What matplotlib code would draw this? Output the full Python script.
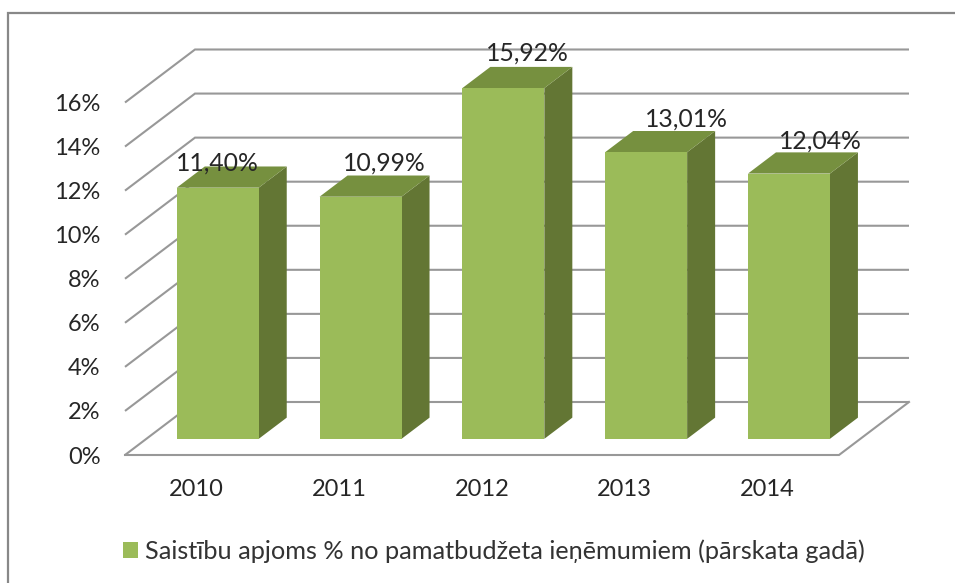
import matplotlib
matplotlib.use("Agg")
import matplotlib.pyplot as plt
from matplotlib.lines import Line2D
from matplotlib.patches import Patch

plt.rcParams['font.family'] = ['Lato', 'DejaVu Sans']

years = ['2010', '2011', '2012', '2013', '2014']
values = [11.40, 10.99, 15.92, 13.01, 12.04]
value_labels = ['11,40%', '10,99%', '15,92%', '13,01%', '12,04%']
y_ticks = [0, 2, 4, 6, 8, 10, 12, 14, 16]
y_tick_labels = ['0%', '2%', '4%', '6%', '8%', '10%', '12%', '14%', '16%']
legend_label = 'Saistību apjoms % no pamatbudžeta ieņēmumiem (pārskata gadā)'

W, H = 955, 583
FRONT, TOP, SIDE = '#9BBB59', '#76903F', '#637634'
GRID, TEXT, FRAME = '#989898', '#262626', '#888888'

# Manual label displacement (px) relative to the bar's top front edge centre
label_shift = [(0, 25), (24, 34), (24, 35), (40, 33), (31, 33)]

fig = plt.figure(figsize=(W / 100, H / 100), dpi=100, facecolor='white')
ax = fig.add_axes([125 / W, 1 - 455 / H, 714 / W, 352.5 / H])
ax.set_xlim(-0.5, 4.5)
ax.set_ylim(0, 16)
ax.patch.set_visible(False)
for s in ax.spines.values():
    s.set_visible(False)

# Oblique projection: depth d in 0..1 from the front to the back wall
DX, DY = 70 / 142.8, 53 / (352.5 / 16)
def proj(x, v, d):
    return x + d * DX, v + d * DY

# Gridlines: diagonal on the side wall, then along the back wall
for v in y_ticks:
    pts = [proj(-0.5, v, 0), proj(-0.5, v, 1), proj(4.5, v, 1)]
    ax.plot(*zip(*pts), color=GRID, lw=1.5, clip_on=False, zorder=1,
            solid_capstyle='butt', solid_joinstyle='miter')
floor = [proj(-0.5, 0, 0), proj(4.5, 0, 0), proj(4.5, 0, 1)]
ax.plot(*zip(*floor), color=GRID, lw=1.5, clip_on=False, zorder=1,
        solid_joinstyle='miter')

# Bars
d0, d1, hw = 0.305, 0.705, 0.287
for i, (val, lab, sh) in enumerate(zip(values, value_labels, label_shift)):
    z = 2 + i * 0.01
    xl, xr = i - hw, i + hw
    front = [proj(xl, 0, d0), proj(xr, 0, d0), proj(xr, val, d0), proj(xl, val, d0)]
    top = [proj(xl, val, d0), proj(xr, val, d0), proj(xr, val, d1), proj(xl, val, d1)]
    side = [proj(xr, 0, d0), proj(xr, 0, d1), proj(xr, val, d1), proj(xr, val, d0)]
    for poly, col in ((side, SIDE), (top, TOP), (front, FRONT)):
        ax.fill(*zip(*poly), color=col, lw=0, clip_on=False, zorder=z)
    ax.annotate(lab, xy=proj(i, val, d0), xytext=(sh[0] * 0.72, sh[1] * 0.72),
                textcoords='offset points', ha='center', va='center',
                fontsize=17.8, color=TEXT, zorder=5, annotation_clip=False)

ax.set_xticks(range(len(years)), years)
ax.set_yticks(y_ticks, y_tick_labels)
ax.tick_params(axis='x', length=0, pad=17.5, labelsize=17, labelcolor=TEXT)
ax.tick_params(axis='y', length=0, pad=17.5, labelsize=17, labelcolor=TEXT)

# Legend
handle = Patch(facecolor=FRONT, edgecolor='none')
fig.legend([handle], [legend_label], loc='center', ncol=1,
           bbox_to_anchor=(493.5 / W, 1 - 551 / H), frameon=False,
           fontsize=18.2, labelcolor='#333333', handlelength=0.6, handleheight=0.56,
           handletextpad=0.28, borderpad=0, borderaxespad=0)

# Chart frame (cut off at right and bottom by the crop)
fig.add_artist(Line2D([7.5 / W, 7.5 / W, 1], [0, 1 - 12.5 / H, 1 - 12.5 / H],
                      color=FRAME, lw=1.6, solid_joinstyle='miter'))

fig.savefig('out.png', dpi=100, facecolor='white')
